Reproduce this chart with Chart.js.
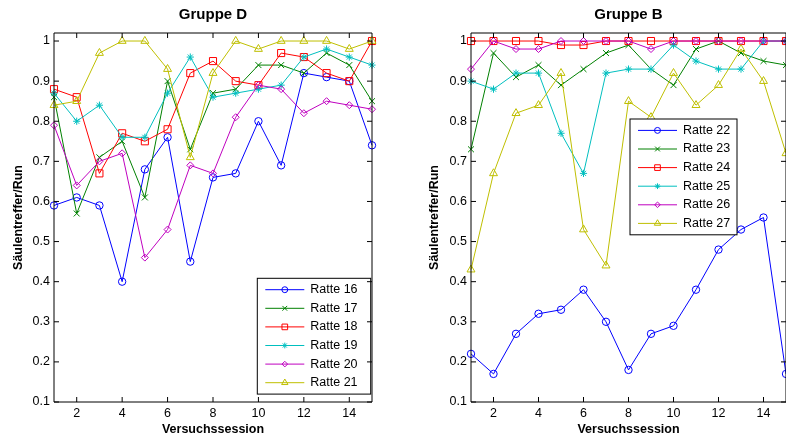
<!DOCTYPE html>
<html>
<head>
<meta charset="utf-8">
<script src="https://cdn.jsdelivr.net/npm/chart.js@4.4.1/dist/chart.umd.min.js"></script>
<style>
  html, body { margin: 0; padding: 0; background: #fff; overflow: hidden; width: 786px; height: 441px; }
  #gruppeD { position: absolute; left: 0; top: 0; }
  #gruppeB { position: absolute; left: 393px; top: 0; }
</style>
</head>
<body>
<canvas id="gruppeD" width="393" height="441"></canvas>
<canvas id="gruppeB" width="400" height="441"></canvas>
<script>
const sessions = [1, 2, 3, 4, 5, 6, 7, 8, 9, 10, 11, 12, 13, 14, 15];
const xTicks = [2, 4, 6, 8, 10, 12, 14];
const yTicks = [0.1, 0.2, 0.3, 0.4, 0.5, 0.6, 0.7, 0.8, 0.9, 1.0];

// Gruppe D
const labelsD = ['Ratte 16', 'Ratte 17', 'Ratte 18', 'Ratte 19', 'Ratte 20', 'Ratte 21'];
const ratte16 = [0.59, 0.61, 0.59, 0.40, 0.68, 0.76, 0.45, 0.66, 0.67, 0.80, 0.69, 0.92, 0.91, 0.90, 0.74];
const ratte17 = [0.86, 0.57, 0.71, 0.75, 0.61, 0.90, 0.73, 0.87, 0.88, 0.94, 0.94, 0.92, 0.97, 0.94, 0.85];
const ratte18 = [0.88, 0.86, 0.67, 0.77, 0.75, 0.78, 0.92, 0.95, 0.90, 0.89, 0.97, 0.96, 0.92, 0.90, 1.00];
const ratte19 = [0.87, 0.80, 0.84, 0.76, 0.76, 0.87, 0.96, 0.86, 0.87, 0.88, 0.89, 0.96, 0.98, 0.96, 0.94];
const ratte20 = [0.79, 0.64, 0.70, 0.72, 0.46, 0.53, 0.69, 0.67, 0.81, 0.89, 0.88, 0.82, 0.85, 0.84, 0.83];
const ratte21 = [0.84, 0.85, 0.97, 1.00, 1.00, 0.93, 0.71, 0.92, 1.00, 0.98, 1.00, 1.00, 1.00, 0.98, 1.00];

// Gruppe B
const labelsB = ['Ratte 22', 'Ratte 23', 'Ratte 24', 'Ratte 25', 'Ratte 26', 'Ratte 27'];
const ratte22 = [0.22, 0.17, 0.27, 0.32, 0.33, 0.38, 0.30, 0.18, 0.27, 0.29, 0.38, 0.48, 0.53, 0.56, 0.17];
const ratte23 = [0.73, 0.97, 0.91, 0.94, 0.89, 0.93, 0.97, 0.99, 0.93, 0.89, 0.98, 1.00, 0.97, 0.95, 0.94];
const ratte24 = [1.00, 1.00, 1.00, 1.00, 0.99, 0.99, 1.00, 1.00, 1.00, 1.00, 1.00, 1.00, 1.00, 1.00, 1.00];
const ratte25 = [0.90, 0.88, 0.92, 0.92, 0.77, 0.67, 0.92, 0.93, 0.93, 0.99, 0.95, 0.93, 0.93, 1.00, 1.00];
const ratte26 = [0.93, 1.00, 0.98, 0.98, 1.00, 1.00, 1.00, 1.00, 0.98, 1.00, 1.00, 1.00, 1.00, 1.00, 1.00];
const ratte27 = [0.43, 0.67, 0.82, 0.84, 0.92, 0.53, 0.44, 0.85, 0.81, 0.92, 0.84, 0.89, 0.98, 0.90, 0.72];

// matlab-ish line specs: b-o, g-x, r-s, c-*, m-d, y-^
const styles = [
  { color: '#0000ff', pointStyle: 'circle', radius: 3.7 },
  { color: '#008000', pointStyle: 'crossRot', radius: 4.2 },
  { color: '#ff0000', pointStyle: 'rect', radius: 5 },
  { color: '#00bfbf', pointStyle: 'star', radius: 3.6 },
  { color: '#bf00bf', pointStyle: 'rectRot', radius: 3.5 },
  { color: '#bfbf00', pointStyle: 'triangle', radius: 4.6 }
];

const FONT = '"Liberation Sans", Arial, sans-serif';
Chart.defaults.font.family = FONT;
Chart.defaults.color = '#000';

// box around the axes with inward ticks on all four sides
const frameTicks = {
  id: 'frameTicks',
  afterDraw(chart) {
    const { ctx, chartArea: a, scales: { x, y } } = chart;
    const len = 5;
    ctx.save();
    ctx.strokeStyle = '#000';
    ctx.lineWidth = 1;
    ctx.beginPath();
    ctx.rect(a.left, a.top, a.right - a.left, a.bottom - a.top);
    xTicks.forEach(v => {
      const px = x.getPixelForValue(v);
      ctx.moveTo(px, a.bottom); ctx.lineTo(px, a.bottom - len);
      ctx.moveTo(px, a.top); ctx.lineTo(px, a.top + len);
    });
    yTicks.forEach(v => {
      const py = y.getPixelForValue(v);
      ctx.moveTo(a.left, py); ctx.lineTo(a.left + len, py);
      ctx.moveTo(a.right, py); ctx.lineTo(a.right - len, py);
    });
    ctx.stroke();
    ctx.restore();
  }
};

// legend box drawn inside the axes like matlab does it
const ratteLegend = {
  id: 'ratteLegend',
  afterDatasetsDraw(chart, args, opts) {
    const { ctx, chartArea: a } = chart;
    const sets = chart.data.datasets;
    const rowH = 18.6, pad = 11.4;
    const left = a.left + opts.dx, top = a.top + opts.dy;
    const h = pad * 2 + rowH * (sets.length - 1);
    ctx.save();
    ctx.fillStyle = '#fff';
    ctx.fillRect(left, top, opts.width, h);
    ctx.strokeStyle = '#000';
    ctx.lineWidth = 1;
    ctx.strokeRect(left, top, opts.width, h);
    sets.forEach((ds, i) => {
      const cy = top + pad + i * rowH;
      ctx.strokeStyle = ds.borderColor;
      ctx.lineWidth = 1;
      ctx.beginPath();
      ctx.moveTo(left + 8, cy);
      ctx.lineTo(left + 47, cy);
      ctx.stroke();
      ctx.fillStyle = 'rgba(0,0,0,0)';
      Chart.helpers.drawPoint(ctx, { pointStyle: ds.pointStyle, radius: ds.pointRadius * 0.8, rotation: 0, borderWidth: 1 }, left + 27.5, cy);
      ctx.fillStyle = '#000';
      ctx.font = '12.5px ' + FONT;
      ctx.textAlign = 'left';
      ctx.textBaseline = 'middle';
      ctx.fillText(ds.label, left + 53, cy);
    });
    ctx.restore();
  }
};

function makeChart(id, title, labels, series, opt) {
  const datasets = series.map((vals, i) => ({
    label: labels[i],
    data: sessions.map((s, j) => ({ x: s, y: vals[j] })),
    borderColor: styles[i].color,
    backgroundColor: 'rgba(0,0,0,0)',
    borderWidth: 1,
    pointStyle: styles[i].pointStyle,
    pointRadius: styles[i].radius,
    pointBorderWidth: 1,
    pointBackgroundColor: 'rgba(0,0,0,0)',
    pointBorderColor: styles[i].color,
    tension: 0,
    clip: false,
    order: -i
  }));

  return new Chart(document.getElementById(id), {
    type: 'line',
    data: { datasets },
    options: {
      responsive: false,
      animation: false,
      devicePixelRatio: 1,
      layout: { padding: { left: 0, right: opt.padRight, top: 0, bottom: 0 } },
      plugins: {
        legend: { display: false },
        tooltip: { enabled: false },
        title: {
          display: true,
          text: title,
          fullSize: false,
          font: { size: 15, weight: 'bold' },
          padding: { top: 6, bottom: 9 }
        },
        ratteLegend: opt.legend
      },
      scales: {
        x: {
          type: 'linear',
          min: 1,
          max: 15,
          grid: { display: false, drawTicks: false },
          border: { display: false },
          afterBuildTicks: s => { s.ticks = xTicks.map(v => ({ value: v })); },
          afterFit: s => { s.height = 39; },
          ticks: { font: { size: 12.5 }, padding: 4, maxRotation: 0 },
          title: {
            display: true,
            text: 'Versuchssession',
            font: { size: 12.5, weight: 'bold' },
            padding: { top: 0, bottom: 3.5 }
          }
        },
        y: {
          type: 'linear',
          min: 0.1,
          max: 1.02,
          grid: { display: false, drawTicks: false },
          border: { display: false },
          afterBuildTicks: s => { s.ticks = yTicks.map(v => ({ value: v })); },
          afterFit: s => { s.width = opt.axisLeft; },
          ticks: {
            font: { size: 12.5 },
            padding: 4,
            callback: v => String(Math.round(v * 10) / 10)
          },
          title: {
            display: true,
            text: 'Säulentreffer/Run',
            font: { size: 12.5, weight: 'bold' },
            padding: { top: opt.yTitlePad, bottom: 0 }
          }
        }
      }
    },
    plugins: [ratteLegend, frameTicks]
  });
}

makeChart('gruppeD', 'Gruppe D', labelsD,
  [ratte16, ratte17, ratte18, ratte19, ratte20, ratte21],
  { padRight: 21, axisLeft: 54, yTitlePad: 10.8, legend: { dx: 203.3, dy: 245.3, width: 113.4 } });

makeChart('gruppeB', 'Gruppe B', labelsB,
  [ratte22, ratte23, ratte24, ratte25, ratte26, ratte27],
  { padRight: 7, axisLeft: 78, yTitlePad: 33.8, legend: { dx: 159, dy: 86, width: 107 } });
</script>
</body>
</html>
